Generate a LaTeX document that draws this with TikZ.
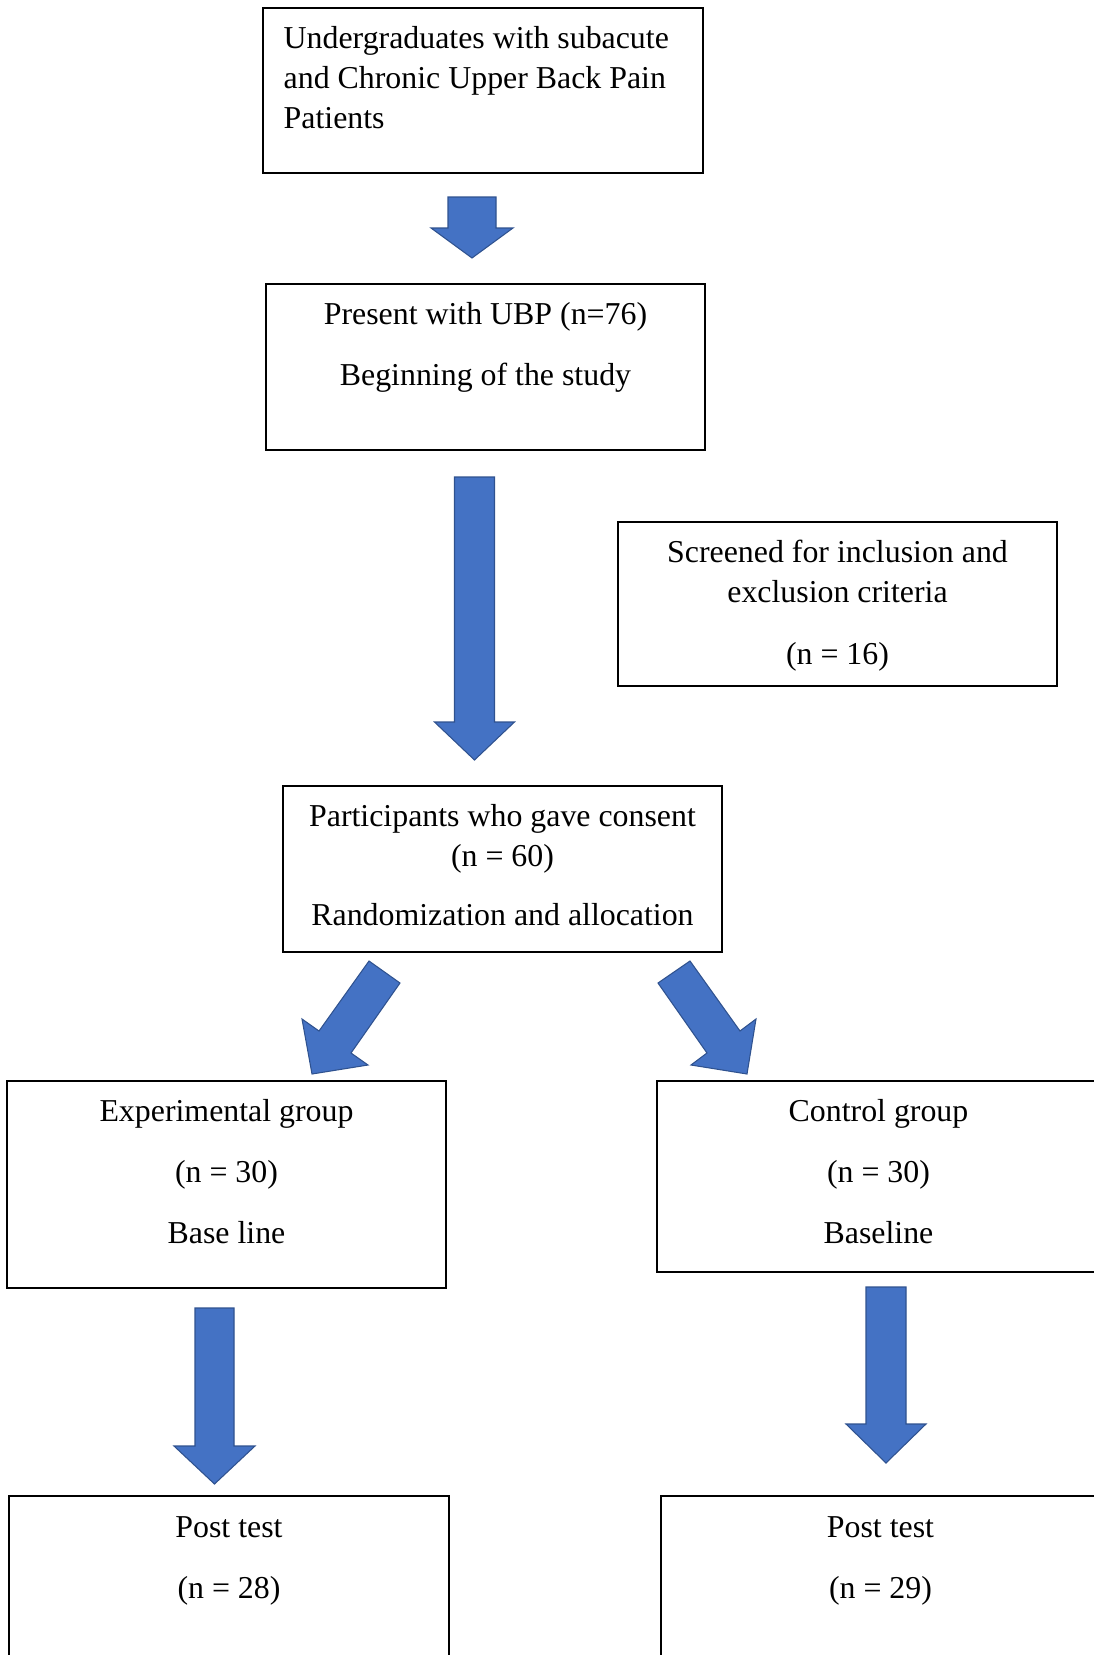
\documentclass[tikz,border=0pt]{standalone}
\usepackage{fontspec}
\setmainfont{Liberation Serif}
\usepackage{tikz}
\usetikzlibrary{positioning,fit}
\definecolor{arrowblue}{HTML}{4472C4}
\definecolor{arrowedge}{HTML}{2F528F}
\newcommand{\blkdown}[6]{%
  \draw[blk] ({#1-#5},#2) -- ({#1+#5},#2) -- ({#1+#5},#3) -- ({#1+#6},#3)
    -- (#1,#4) -- ({#1-#6},#3) -- ({#1-#5},#3) -- cycle;}
\tikzset{
  box/.style={draw,line width=0.6pt,inner sep=0pt},
  txt/.style={inner sep=0pt,align=center,font=\fontsize{12}{14.9}\selectfont},
  blk/.style={fill=arrowblue,draw=arrowedge,line width=0.4pt,line join=miter},
}
\begin{document}
\begin{tikzpicture}[x=0.3766pt,y=-0.3766pt]
  \useasboundingbox (0,0) rectangle (1094,1655);
  \node[box,fit={(263,8) (703,173)}] (start) {};
  \node[box,fit={(266,284) (705,450)}] (ubp) {};
  \node[box,fit={(618,522) (1057,686)}] (screen) {};
  \node[box,fit={(283,786) (722,952)}] (consent) {};
  \node[box,fit={(7,1081) (446,1288)}] (expg) {};
  \node[box,fit={(657,1081) (1100,1272)}] (ctrlg) {};
  \node[box,fit={(9,1496) (449,1662)}] (postexp) {};
  \node[box,fit={(661,1496) (1100,1662)}] (postctrl) {};
  \node[txt,align=left,below right=7.2pt and 7.9pt of start.north west] (tstart)
    {Undergraduates with subacute\\and Chronic Upper Back Pain\\Patients};
  \node[txt,below=6.9pt of ubp.north] (tubp)
    {Present with UBP (n=76)\\[8.3pt]Beginning of the study};
  \node[txt,below=6.9pt of screen.north] (tscreen)
    {Screened for inclusion and\\exclusion criteria\\[8.6pt](n = 16)};
  \node[txt,below=7.2pt of consent.north] (tconsent)
    {Participants who gave consent\\(n = 60)\\[7.3pt]Randomization and allocation};
  \node[txt,below=6.9pt of expg.north] (texpg)
    {Experimental group\\[8.3pt](n = 30)\\[7.8pt]Base line};
  \node[txt,below=6.9pt of ctrlg.north] (tctrlg)
    {Control group\\[8.3pt](n = 30)\\[7.8pt]Baseline};
  \node[txt,below=7.8pt of postexp.north] (tpostexp)
    {Post test\\[8.3pt](n = 28)};
  \node[txt,below=7.8pt of postctrl.north] (tpostctrl)
    {Post test\\[8.3pt](n = 29)};
  \blkdown{472}{197}{228}{258}{24}{41}
  \blkdown{474.5}{477}{722}{760}{20}{40}
  \blkdown{214.5}{1308}{1446}{1484}{19.5}{40.5}
  \blkdown{886}{1287}{1424}{1463}{20}{40}
  \draw[blk] (369,961) -- (400,983) -- (351,1053) -- (368,1065) -- (312,1074)
    -- (302,1019) -- (319,1031) -- cycle;
  \draw[blk] (690,961) -- (658,983) -- (707,1053) -- (691,1065) -- (747,1074)
    -- (756,1019) -- (740,1031) -- cycle;
\end{tikzpicture}
\end{document}
